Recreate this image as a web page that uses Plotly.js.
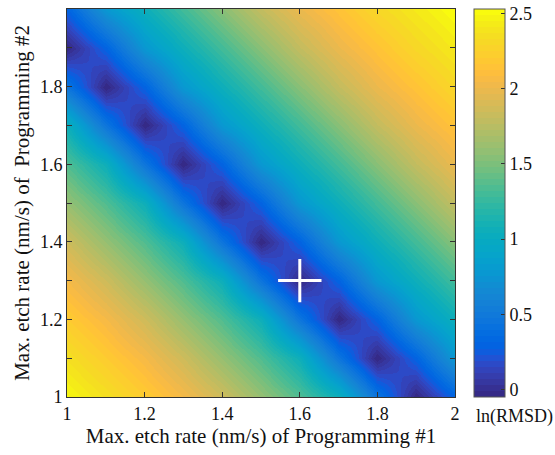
<!DOCTYPE html>
<html>
<head>
<meta charset="utf-8">
<script src="https://cdn.plot.ly/plotly-3.0.1.min.js"></script>
<style>
  html, body { margin: 0; padding: 0; background: #fff; }
  #chart { width: 555px; height: 455px; }
</style>
</head>
<body>
<div id="chart"></div>
<script>
// Grid of maximum etch rates (nm/s) for the two programming steps
const rate1 = [1.0, 1.1, 1.2, 1.3, 1.4, 1.5, 1.6, 1.7, 1.8, 1.9, 2.0];
const rate2 = [1.0, 1.1, 1.2, 1.3, 1.4, 1.5, 1.6, 1.7, 1.8, 1.9, 2.0];

// ln(RMSD), one row per rate2 value (bottom row = 1.0)
const lnRmsd = [
  [2.50, 2.36, 2.21, 2.05, 1.85, 1.60, 1.35, 1.05, 0.45, -0.05, 0.30],
  [2.36, 2.21, 2.05, 1.85, 1.60, 1.35, 1.05, 0.45, -0.05, 0.30, 0.78],
  [2.21, 2.05, 1.85, 1.60, 1.35, 1.05, 0.45, -0.05, 0.30, 0.78, 1.05],
  [2.05, 1.85, 1.60, 1.35, 1.05, 0.45, -0.05, 0.30, 0.78, 1.05, 1.30],
  [1.85, 1.60, 1.35, 1.05, 0.45, -0.05, 0.30, 0.78, 1.05, 1.30, 1.55],
  [1.60, 1.35, 1.05, 0.45, -0.05, 0.30, 0.78, 1.05, 1.30, 1.55, 1.80],
  [1.35, 1.05, 0.45, -0.05, 0.30, 0.78, 1.05, 1.30, 1.55, 1.80, 2.00],
  [1.05, 0.45, -0.05, 0.30, 0.78, 1.05, 1.30, 1.55, 1.80, 2.00, 2.15],
  [0.45, -0.05, 0.30, 0.78, 1.05, 1.30, 1.55, 1.80, 2.00, 2.15, 2.30],
  [-0.05, 0.30, 0.78, 1.05, 1.30, 1.55, 1.80, 2.00, 2.15, 2.30, 2.42],
  [0.30, 0.78, 1.05, 1.30, 1.55, 1.80, 2.00, 2.15, 2.30, 2.42, 2.53]
];

// Best-fit point
const bestRate1 = [1.6];
const bestRate2 = [1.3];

const xTickVals = [1, 1.2, 1.4, 1.6, 1.8, 2];
const xTickText = ['1', '1.2', '1.4', '1.6', '1.8', '2'];
const yTickVals = [1, 1.2, 1.4, 1.6, 1.8, 2];
const yTickText = ['1', '1.2', '1.4', '1.6', '1.8', '2'];
const cbTickVals = [0, 0.5, 1, 1.5, 2, 2.5];
const cbTickText = ['0', '0.5', '1', '1.5', '2', '2.5'];

// Parula colour map, 64 entries, used as discrete bands
const parula = [
  [0.2081,0.1663,0.5292],[0.2116,0.1898,0.5777],[0.2123,0.2138,0.6270],[0.2081,0.2386,0.6771],
  [0.1959,0.2645,0.7279],[0.1707,0.2919,0.7792],[0.1253,0.3242,0.8303],[0.0591,0.3598,0.8683],
  [0.0117,0.3875,0.8820],[0.0060,0.4086,0.8828],[0.0165,0.4266,0.8786],[0.0329,0.4430,0.8720],
  [0.0498,0.4586,0.8641],[0.0629,0.4737,0.8554],[0.0723,0.4887,0.8467],[0.0779,0.5040,0.8384],
  [0.0793,0.5200,0.8312],[0.0749,0.5375,0.8263],[0.0641,0.5570,0.8240],[0.0488,0.5772,0.8228],
  [0.0343,0.5966,0.8199],[0.0265,0.6137,0.8135],[0.0239,0.6287,0.8038],[0.0231,0.6418,0.7913],
  [0.0228,0.6535,0.7768],[0.0267,0.6642,0.7607],[0.0384,0.6743,0.7436],[0.0590,0.6838,0.7254],
  [0.0843,0.6928,0.7062],[0.1133,0.7015,0.6859],[0.1453,0.7098,0.6646],[0.1801,0.7177,0.6424],
  [0.2178,0.7250,0.6193],[0.2586,0.7317,0.5954],[0.3022,0.7376,0.5712],[0.3482,0.7424,0.5473],
  [0.3953,0.7459,0.5244],[0.4420,0.7481,0.5033],[0.4871,0.7491,0.4840],[0.5300,0.7491,0.4661],
  [0.5709,0.7485,0.4494],[0.6099,0.7473,0.4337],[0.6473,0.7456,0.4188],[0.6834,0.7435,0.4044],
  [0.7184,0.7411,0.3905],[0.7525,0.7384,0.3768],[0.7858,0.7356,0.3633],[0.8185,0.7327,0.3498],
  [0.8507,0.7299,0.3360],[0.8824,0.7274,0.3217],[0.9139,0.7258,0.3063],[0.9450,0.7261,0.2886],
  [0.9739,0.7314,0.2666],[0.9938,0.7455,0.2403],[0.9990,0.7653,0.2164],[0.9955,0.7861,0.1967],
  [0.9880,0.8066,0.1794],[0.9789,0.8271,0.1633],[0.9697,0.8481,0.1475],[0.9626,0.8705,0.1309],
  [0.9589,0.8949,0.1132],[0.9598,0.9218,0.0948],[0.9661,0.9514,0.0755],[0.9763,0.9831,0.0538]
];

function bandedScale(map) {
  const n = map.length;
  const out = [];
  map.forEach((c, i) => {
    const col = 'rgb(' + c.map(v => Math.round(v * 255)).join(',') + ')';
    out.push([i / n, col]);
    out.push([(i + 1) / n, col]);
  });
  return out;
}

const serif = 'Liberation Serif, Times New Roman, serif';
const axisCol = '#333333';

const heat = {
  type: 'heatmap',
  x: rate1,
  y: rate2,
  z: lnRmsd,
  zsmooth: 'best',
  colorscale: bandedScale(parula),
  colorbar: {
    x: 1.049, xanchor: 'left', xref: 'paper',
    y: 0.5, yanchor: 'middle',
    len: 1, lenmode: 'fraction',
    thickness: 31, thicknessmode: 'pixels',
    xpad: 0, ypad: 0,
    outlinewidth: 1, outlinecolor: '#555555',
    ticks: 'inside', ticklen: 4, tickwidth: 1, tickcolor: axisCol,
    tickvals: cbTickVals, ticktext: cbTickText,
    tickfont: { family: serif, size: 18, color: '#111' },
    title: { text: '' }
  },
  hoverinfo: 'skip'
};

const best = {
  type: 'scatter',
  mode: 'markers',
  x: bestRate1,
  y: bestRate2,
  marker: { symbol: 'cross-thin', size: 31, line: { color: '#ffffff', width: 3 } },
  showlegend: false,
  hoverinfo: 'skip'
};

const layout = {
  width: 555,
  height: 455,
  margin: { l: 67, r: 100, t: 9, b: 58 },
  paper_bgcolor: '#ffffff',
  plot_bgcolor: '#ffffff',
  showlegend: false,
  xaxis: {
    range: [1, 2],
    tickvals: xTickVals, ticktext: xTickText,
    ticks: 'inside', ticklen: 5, tickwidth: 1, tickcolor: axisCol,
    showline: true, linecolor: axisCol, linewidth: 1, mirror: 'ticks',
    showgrid: false, zeroline: false,
    tickfont: { family: serif, size: 18, color: '#111' },
    title: { text: 'Max. etch rate (nm/s) of Programming #1', font: { family: serif, size: 21, color: '#111' }, standoff: 2 }
  },
  yaxis: {
    range: [1, 2],
    tickvals: yTickVals, ticktext: yTickText,
    ticks: 'inside', ticklen: 5, tickwidth: 1, tickcolor: axisCol,
    minor: { dtick: 0.1, tick0: 1, ticks: 'inside', ticklen: 5, tickwidth: 1, tickcolor: axisCol, showgrid: false },
    showline: true, linecolor: axisCol, linewidth: 1, mirror: 'ticks',
    showgrid: false, zeroline: false,
    tickfont: { family: serif, size: 18, color: '#111' },
    title: { text: 'Max. etch rate (nm/s) of\u00a0 Programming #2', font: { family: serif, size: 21, color: '#111' }, standoff: 4 }
  },
  annotations: [{
    text: 'ln(RMSD)',
    xref: 'paper', yref: 'paper',
    x: 1.049, xanchor: 'left',
    y: -0.05, yanchor: 'middle',
    showarrow: false,
    font: { family: serif, size: 18, color: '#111' }
  }]
};

Plotly.newPlot('chart', [heat, best], layout, { displayModeBar: false, staticPlot: true });
</script>
</body>
</html>
